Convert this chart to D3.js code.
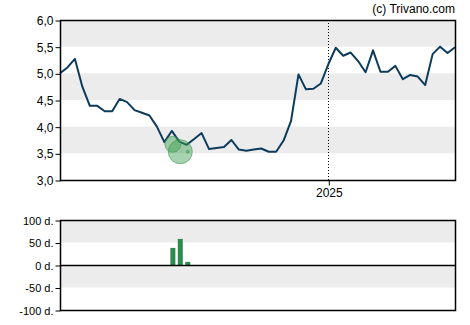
<!DOCTYPE html>
<html>
<head>
<meta charset="utf-8">
<script src="https://cdn.jsdelivr.net/npm/d3@7"></script>
<style>
  body { margin: 0; background: #fff; }
  svg text { font-family: "Liberation Sans", Arial, sans-serif; }
</style>
</head>
<body>
<div id="chart"></div>
<script>
// weekly closing prices
const dates = [
  "2024-04-24","2024-05-01","2024-05-08","2024-05-15","2024-05-22","2024-05-29",
  "2024-06-05","2024-06-12","2024-06-19","2024-06-26","2024-07-03","2024-07-10",
  "2024-07-17","2024-07-24","2024-07-31","2024-08-07","2024-08-14","2024-08-21",
  "2024-08-28","2024-09-04","2024-09-11","2024-09-18","2024-09-25","2024-10-02",
  "2024-10-09","2024-10-16","2024-10-23","2024-10-30","2024-11-06","2024-11-13",
  "2024-11-20","2024-11-27","2024-12-04","2024-12-11","2024-12-18","2024-12-25",
  "2025-01-01","2025-01-08","2025-01-15","2025-01-22","2025-01-29","2025-02-05",
  "2025-02-12","2025-02-19","2025-02-26","2025-03-05","2025-03-12","2025-03-19",
  "2025-03-26","2025-04-02","2025-04-09","2025-04-16","2025-04-23","2025-04-30"
];
const prices = [
  5.00, 5.11, 5.27, 4.75, 4.39, 4.39, 4.29, 4.29, 4.52, 4.46,
  4.31, 4.26, 4.21, 4.00, 3.71, 3.92, 3.72, 3.66, 3.77, 3.88,
  3.58, 3.60, 3.62, 3.75, 3.57, 3.55, 3.57, 3.59, 3.53, 3.53,
  3.74, 4.11, 4.98, 4.70, 4.71, 4.81, 5.17, 5.48, 5.33, 5.39,
  5.23, 5.02, 5.43, 5.03, 5.03, 5.14, 4.89, 4.97, 4.94, 4.78,
  5.36, 5.50, 5.38, 5.49
];

// insider events: date, price, days held (bars) and marker size
const eventDates = ["2024-08-08", "2024-08-15", "2024-08-22"];
const eventPrices = [3.67, 3.53, 3.53];
const eventSizes = [8, 12, 1.5];
const eventDays = [38, 58, 7];

const yTicks = [3.0, 3.5, 4.0, 4.5, 5.0, 5.5, 6.0];
const dayTicks = [-100, -50, 0, 50, 100];
const yearTicks = ["2025-01-01"];

const parse = d3.timeParse("%Y-%m-%d");
const series = dates.map((d, i) => ({date: parse(d), price: prices[i]}));
const events = eventDates.map((d, i) => ({date: parse(d), price: eventPrices[i], size: eventSizes[i], days: eventDays[i]}));

const width = 470, height = 325;
const left = 60, right = 455;
const main = {top: 20, bottom: 180};
const sub = {top: 220, bottom: 310};

const svg = d3.select("#chart").append("svg")
    .attr("width", width)
    .attr("height", height);

const x = d3.scaleTime()
    .domain(d3.extent(series, d => d.date))
    .range([left, right]);

const y = d3.scaleLinear()
    .domain([3, 6])
    .range([main.bottom, main.top]);

const yd = d3.scaleLinear()
    .domain([-100, 100])
    .range([sub.bottom, sub.top]);

const fmt = d3.format(".1f");

// grey bands main chart
const bands = [[3.5, 4.0], [4.5, 5.0], [5.5, 6.0]];
svg.selectAll(".band")
    .data(bands).enter()
    .append("rect")
    .attr("x", left)
    .attr("width", right - left)
    .attr("y", d => y(d[1]))
    .attr("height", d => y(d[0]) - y(d[1]))
    .attr("fill", "#ececec");

// year line
svg.selectAll(".yearline")
    .data(yearTicks).enter()
    .append("line")
    .attr("x1", d => Math.round(x(parse(d))) + 0.5)
    .attr("x2", d => Math.round(x(parse(d))) + 0.5)
    .attr("y1", main.top)
    .attr("y2", main.bottom)
    .attr("stroke", "#000")
    .attr("stroke-width", 1)
    .attr("stroke-dasharray", "1,2");

// price line
svg.append("path")
    .datum(series)
    .attr("fill", "none")
    .attr("stroke", "#0d3b5c")
    .attr("stroke-width", 2)
    .attr("stroke-linejoin", "round")
    .attr("d", d3.line().x(d => x(d.date)).y(d => y(d.price)));

// event circles
svg.selectAll(".ev")
    .data(events).enter()
    .append("circle")
    .attr("cx", d => x(d.date))
    .attr("cy", d => y(d.price))
    .attr("r", d => d.size)
    .attr("fill", "rgba(60,160,80,0.45)")
    .attr("stroke", "rgba(60,150,80,0.6)")
    .attr("stroke-width", 1);

// frame main
svg.append("rect")
    .attr("x", left + 0.5)
    .attr("y", main.top + 0.5)
    .attr("width", right - left)
    .attr("height", main.bottom - main.top)
    .attr("fill", "none")
    .attr("stroke", "#000")
    .attr("stroke-width", 1.5);

// y axis main
let yAxis = svg.append("g")
    .attr("transform", "translate(" + (left + 0.5) + ",0.5)")
    .call(d3.axisLeft(y).tickValues(yTicks).tickSize(5).tickPadding(2)
        .tickFormat(d => fmt(d).replace(".", ",")));
yAxis.select(".domain").remove();
yAxis.selectAll("text").attr("font-size", 12).attr("fill", "#000");

// x axis
let xAxis = svg.append("g")
    .attr("transform", "translate(0.5," + (main.bottom + 0.5) + ")")
    .call(d3.axisBottom(x).tickValues(yearTicks.map(parse)).tickSize(5).tickPadding(3)
        .tickFormat(d3.timeFormat("%Y")));
xAxis.select(".domain").remove();
xAxis.selectAll("text").attr("font-size", 12).attr("fill", "#000");

// copyright
svg.append("text")
    .attr("x", right)
    .attr("y", 13)
    .attr("text-anchor", "end")
    .attr("font-size", 12)
    .attr("fill", "#000")
    .text("(c) Trivano.com");

// lower chart bands
const dayBands = [[50, 100], [-50, 0]];
svg.selectAll(".dband")
    .data(dayBands).enter()
    .append("rect")
    .attr("x", left)
    .attr("width", right - left)
    .attr("y", d => yd(d[1]))
    .attr("height", d => yd(d[0]) - yd(d[1]))
    .attr("fill", "#ececec");

// bars
svg.selectAll(".bar")
    .data(events).enter()
    .append("rect")
    .attr("x", d => x(d.date) - 2.5)
    .attr("width", 5)
    .attr("y", d => yd(d.days))
    .attr("height", d => yd(0) - yd(d.days))
    .attr("fill", "#2e8b50");

// zero line
svg.append("line")
    .attr("x1", left)
    .attr("x2", right)
    .attr("y1", yd(0) + 0.5)
    .attr("y2", yd(0) + 0.5)
    .attr("stroke", "#000")
    .attr("stroke-width", 1.5);

// frame lower
svg.append("rect")
    .attr("x", left + 0.5)
    .attr("y", sub.top + 0.5)
    .attr("width", right - left)
    .attr("height", sub.bottom - sub.top)
    .attr("fill", "none")
    .attr("stroke", "#000")
    .attr("stroke-width", 1.5);

let dAxis = svg.append("g")
    .attr("transform", "translate(" + (left + 0.5) + ",0.5)")
    .call(d3.axisLeft(yd).tickValues(dayTicks).tickSize(5).tickPadding(2)
        .tickFormat(d => d + " d."));
dAxis.select(".domain").remove();
dAxis.selectAll("text").attr("font-size", 11).attr("fill", "#000");
</script>
</body>
</html>
